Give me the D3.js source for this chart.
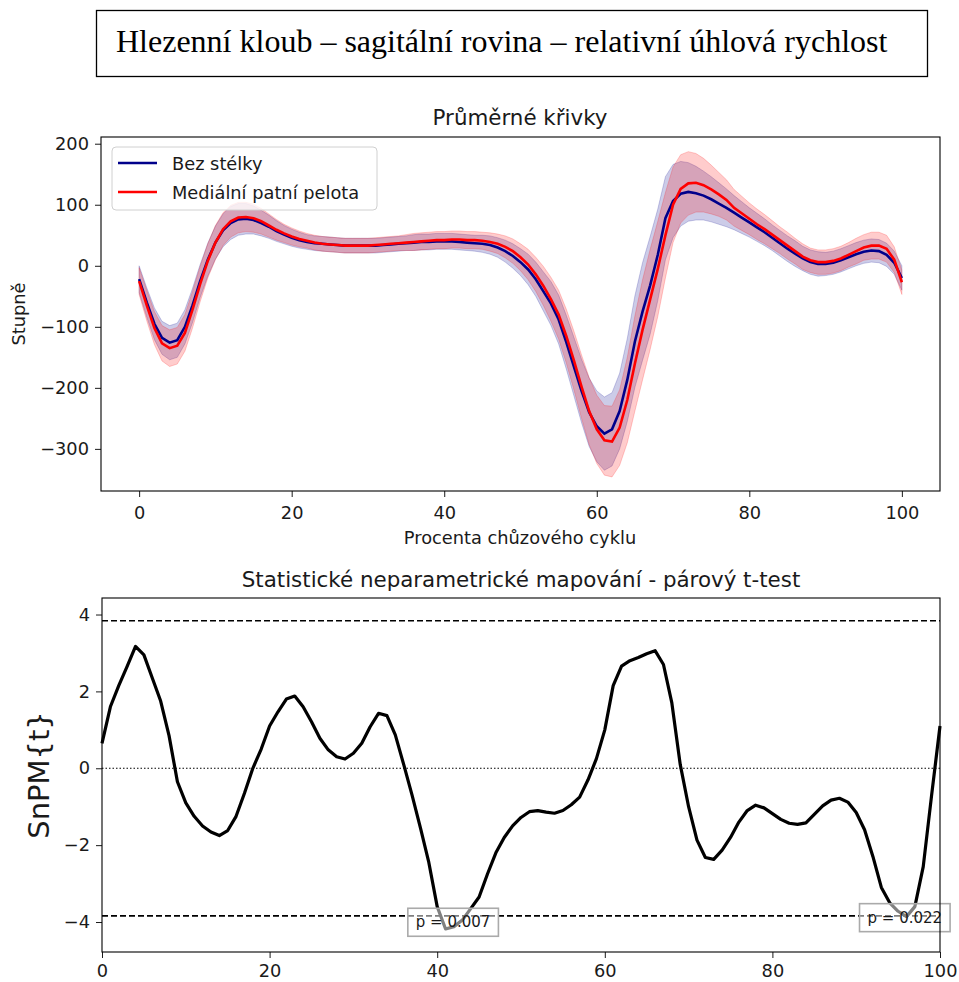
<!DOCTYPE html>
<html>
<head>
<meta charset="utf-8">
<script src="https://cdn.jsdelivr.net/npm/d3@7"></script>
<style>
  body { margin: 0; background: #fff; }
  svg text { font-family: "DejaVu Sans", sans-serif; fill: #1a1a1a; }
  .tick line { stroke: #1a1a1a; }
  .tick text { font-size: 17.8px; }
  .domain { display: none; }
</style>
</head>
<body>
<svg id="chart" width="959" height="982"></svg>
<script>
// percent of gait cycle
var pct = d3.range(0, 101);

// mean angular velocity, no insole
var bezMean = [
  -22, -60, -95, -118, -126, -122, -100, -65, -25, 10,
  38, 58, 70, 76, 77, 75, 70, 64, 57, 51,
  46, 42, 39, 37, 36, 35, 34, 33, 33, 33,
  33, 33, 34, 35, 36, 37, 38, 39, 39, 40,
  40, 40, 39, 38, 37, 36, 34, 30, 24, 16,
  6, -6, -22, -42, -62, -88, -125, -165, -205, -240,
  -263, -275, -268, -238, -187, -124, -75, -32, 18, 78,
  106, 118, 121, 119, 115, 109, 102, 95, 87, 79,
  71, 63, 55, 46, 37, 28, 20, 12, 6, 3,
  3, 5, 9, 14, 19, 23, 25, 24, 18, 5,
  -20
];
var bezSd = [
  22, 24, 26, 27, 28, 28, 28, 28, 27, 27,
  27, 27, 27, 26, 25, 23, 21, 19, 17, 15,
  14, 13, 12, 12, 12, 12, 12, 12, 12, 12,
  12, 12, 12, 12, 12, 12, 13, 13, 13, 13,
  13, 13, 13, 13, 13, 14, 15, 16, 18, 20,
  22, 25, 28, 32, 36, 40, 44, 48, 52, 56,
  58, 60, 60, 62, 68, 75, 80, 80, 75, 68,
  60, 53, 48, 44, 40, 37, 34, 31, 28, 26,
  24, 23, 22, 21, 21, 21, 21, 20, 20, 20,
  19, 19, 19, 19, 19, 19, 19, 19, 19, 19,
  20
];

// mean angular velocity, medial heel pad
var pelMean = [
  -25, -65, -102, -127, -135, -131, -110, -72, -30, 8,
  38, 60, 73, 79, 80, 78, 73, 66, 59, 53,
  48, 44, 41, 38, 36, 35, 34, 33, 33, 33,
  33, 34, 35, 36, 37, 38, 39, 40, 41, 42,
  42, 43, 43, 42, 42, 41, 39, 36, 31, 24,
  14, 2, -14, -33, -55, -80, -115, -155, -198, -238,
  -268, -286, -288, -265, -220, -160, -105, -55, -5, 50,
  100, 126, 135, 136, 132, 125, 117, 108, 95, 86,
  77, 68, 60, 51, 42, 33, 24, 15, 9, 6,
  6, 8, 12, 18, 24, 30, 33, 33, 28, 10,
  -27
];
var pelSd = [
  22, 25, 27, 29, 30, 30, 30, 30, 29, 28,
  28, 27, 26, 25, 24, 23, 21, 19, 17, 15,
  14, 13, 12, 12, 12, 12, 12, 12, 12, 12,
  12, 12, 12, 12, 12, 13, 14, 14, 14, 14,
  14, 14, 14, 14, 14, 14, 15, 16, 18, 20,
  22, 25, 28, 32, 36, 40, 44, 48, 52, 55,
  56, 57, 58, 62, 70, 78, 82, 82, 78, 70,
  62, 56, 52, 48, 44, 40, 36, 33, 30, 28,
  26, 25, 24, 23, 22, 22, 21, 21, 20, 20,
  20, 20, 20, 20, 21, 21, 22, 22, 22, 21,
  20
];

// SnPM{t} paired t-test
var snpmT = [
  0.65, 1.6, 2.15, 2.65, 3.17, 2.95, 2.35, 1.75, 0.85, -0.35,
  -0.9, -1.25, -1.5, -1.66, -1.75, -1.62, -1.25, -0.65, 0.0, 0.5,
  1.1, 1.47, 1.8, 1.88, 1.6, 1.21, 0.78, 0.48, 0.3, 0.24,
  0.39, 0.65, 1.08, 1.43, 1.37, 0.87, 0.1, -0.7, -1.55, -2.45,
  -3.6, -4.18, -4.12, -3.95, -3.65, -3.35, -2.75, -2.2, -1.8, -1.5,
  -1.28, -1.13, -1.1, -1.14, -1.17, -1.1, -0.95, -0.75, -0.3, 0.25,
  1.0, 2.15, 2.66, 2.8, 2.88, 2.98, 3.06, 2.7, 1.7, 0.1,
  -1.0, -1.87, -2.32, -2.37, -2.13, -1.8, -1.4, -1.1, -0.96, -1.03,
  -1.18, -1.33, -1.43, -1.46, -1.42, -1.2, -0.98, -0.83, -0.78, -0.88,
  -1.15, -1.6, -2.3, -3.1, -3.5, -3.72, -3.86, -3.6, -2.56, -0.7,
  1.1
];
var thresh = 3.84;
var pLabels = ["p = 0.007", "p = 0.022"];
var pX = [41.9, 95.8];
var pY = [-4.0, -3.88];

var xTicks = [0, 20, 40, 60, 80, 100];
var topYTicks = [-300, -200, -100, 0, 100, 200];
var botYTicks = [-4, -2, 0, 2, 4];
var seriesNames = ["Bez stélky", "Mediální patní pelota"];
var seriesColors = ["#00008b", "#ff0000"];

var fmt = function (d) { return String(d).replace("-", "\u2212"); };

var svg = d3.select("#chart");

// heading box
svg.append("rect")
  .attr("x", 96.5).attr("y", 10.5).attr("width", 831).attr("height", 66)
  .attr("fill", "none").attr("stroke", "#000").attr("stroke-width", 1.3);
svg.append("text")
  .attr("x", 116).attr("y", 52)
  .style("font-family", "'Liberation Serif', 'Times New Roman', serif")
  .style("font-size", "32px").style("fill", "#000")
  .text("Hlezenní kloub \u2013 sagitální rovina \u2013 relativní úhlová rychlost");

// ---------- top panel ----------
var x1 = d3.scaleLinear().domain([-5, 105]).range([101, 940]);
var y1 = d3.scaleLinear().domain([-369, 211]).range([491, 137]);
var topPanel = svg.append("g");

function band(mean, sd) {
  return d3.area()
    .x(function (d, i) { return x1(pct[i]); })
    .y0(function (d, i) { return y1(mean[i] - sd[i]); })
    .y1(function (d, i) { return y1(mean[i] + sd[i]); });
}
function meanLine(mean) {
  return d3.line()
    .x(function (d, i) { return x1(pct[i]); })
    .y(function (d, i) { return y1(mean[i]); });
}

[[bezMean, bezSd], [pelMean, pelSd]].forEach(function (s, k) {
  topPanel.append("path").datum(pct)
    .attr("d", band(s[0], s[1]))
    .attr("fill", seriesColors[k]).attr("fill-opacity", 0.2)
    .attr("stroke", seriesColors[k]).attr("stroke-opacity", 0.2).attr("stroke-width", 1);
});
[bezMean, pelMean].forEach(function (m, k) {
  topPanel.append("path").datum(pct)
    .attr("d", meanLine(m))
    .attr("fill", "none").attr("stroke", seriesColors[k]).attr("stroke-width", 2.6);
});

topPanel.append("g").attr("transform", "translate(0,491)")
  .call(d3.axisBottom(x1).tickValues(xTicks).tickSize(6).tickPadding(9).tickFormat(fmt));
topPanel.append("g").attr("transform", "translate(101,0)")
  .call(d3.axisLeft(y1).tickValues(topYTicks).tickSize(6).tickPadding(6).tickFormat(fmt));
topPanel.append("rect").attr("x", 101).attr("y", 137).attr("width", 839).attr("height", 354)
  .attr("fill", "none").attr("stroke", "#000").attr("stroke-width", 1.1);

topPanel.append("text").attr("x", 520).attr("y", 125).attr("text-anchor", "middle")
  .style("font-size", "21.4px").text("Průměrné křivky");
topPanel.append("text").attr("x", 520).attr("y", 544).attr("text-anchor", "middle")
  .style("font-size", "17.8px").text("Procenta chůzového cyklu");
topPanel.append("text").attr("transform", "translate(25,314) rotate(-90)").attr("text-anchor", "middle")
  .style("font-size", "17.8px").text("Stupně");

// legend
var leg = topPanel.append("g");
leg.append("rect").attr("x", 112).attr("y", 147).attr("width", 265).attr("height", 63).attr("rx", 4)
  .attr("fill", "#fff").attr("fill-opacity", 0.8).attr("stroke", "#d0d0d0");
seriesNames.forEach(function (n, k) {
  var ly = 163 + k * 29;
  leg.append("line").attr("x1", 118).attr("x2", 157).attr("y1", ly).attr("y2", ly)
    .attr("stroke", seriesColors[k]).attr("stroke-width", 2.6);
  leg.append("text").attr("x", 172).attr("y", ly + 6.5).style("font-size", "17.8px").text(n);
});

// ---------- bottom panel ----------
var x2 = d3.scaleLinear().domain([0, 100]).range([102, 940]);
var y2 = d3.scaleLinear().domain([-4.78, 4.43]).range([952, 598]);
var botPanel = svg.append("g");

botPanel.append("line").attr("x1", 102).attr("x2", 940).attr("y1", y2(0)).attr("y2", y2(0))
  .attr("stroke", "#000").attr("stroke-width", 1.2).attr("stroke-dasharray", "1.5,2");
[thresh, -thresh].forEach(function (v) {
  botPanel.append("line").attr("x1", 102).attr("x2", 940).attr("y1", y2(v)).attr("y2", y2(v))
    .attr("stroke", "#000").attr("stroke-width", 1.6).attr("stroke-dasharray", "6,3");
});

botPanel.append("path").datum(snpmT)
  .attr("d", d3.line().x(function (d, i) { return x2(pct[i]); }).y(function (d) { return y2(d); }))
  .attr("fill", "none").attr("stroke", "#000").attr("stroke-width", 3.2).attr("stroke-linejoin", "round");

pLabels.forEach(function (lab, k) {
  var g = botPanel.append("g");
  var t = g.append("text").attr("x", x2(pX[k])).attr("y", y2(pY[k])).attr("dy", "0.35em")
    .attr("text-anchor", "middle").style("font-size", "15px").text(lab);
  var b = t.node().getBBox();
  g.insert("rect", "text")
    .attr("x", b.x - 8).attr("y", b.y - 5).attr("width", b.width + 16).attr("height", b.height + 10)
    .attr("fill", "#fff").attr("fill-opacity", 0.5).attr("stroke", "#aaa").attr("stroke-width", 1.6);
});

botPanel.append("g").attr("transform", "translate(0,952)")
  .call(d3.axisBottom(x2).tickValues(xTicks).tickSize(6).tickPadding(6).tickFormat(fmt));
botPanel.append("g").attr("transform", "translate(102,0)")
  .call(d3.axisLeft(y2).tickValues(botYTicks).tickSize(6).tickPadding(6).tickFormat(fmt));
botPanel.append("rect").attr("x", 102).attr("y", 598).attr("width", 838).attr("height", 354)
  .attr("fill", "none").attr("stroke", "#000").attr("stroke-width", 1.1);

botPanel.append("text").attr("x", 521).attr("y", 587).attr("text-anchor", "middle")
  .style("font-size", "21.4px").text("Statistické neparametrické mapování - párový t-test");
botPanel.append("text").attr("transform", "translate(49,775) rotate(-90)").attr("text-anchor", "middle")
  .style("font-size", "29px").text("SnPM{t}");
</script>
</body>
</html>
